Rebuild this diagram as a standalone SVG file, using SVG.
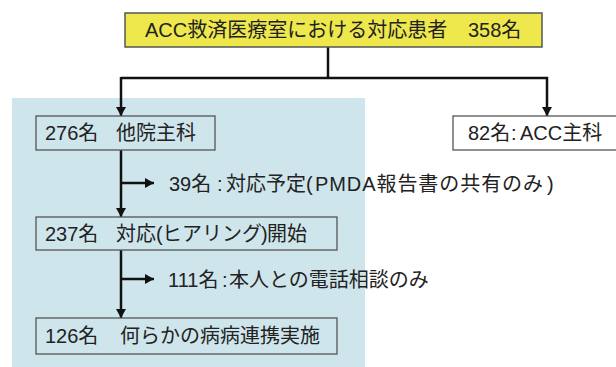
<svg xmlns="http://www.w3.org/2000/svg" width="616" height="367" viewBox="0 0 616 367">
<defs>
<style>
.t{font-family:"Liberation Sans","Noto Sans CJK JP",sans-serif;font-size:20px;fill:#222}
.box{fill:none;stroke:#555;stroke-width:1.3}
.c{stroke:#111;stroke-width:2.5;fill:none}
</style>
<marker id="ah" markerUnits="userSpaceOnUse" markerWidth="12" markerHeight="12" refX="9" refY="5" orient="auto">
<path d="M0,0 L9,5 L0,10 Z" fill="#111"/>
</marker>
</defs>
<rect width="616" height="367" fill="#fff"/>
<rect id="panel" x="12" y="98" width="353" height="269" fill="#cfe5ec"/>
<g id="connectors">
<polyline class="c" points="328,47 328,78"/>
<polyline class="c" points="121,78 547,78 547,116" marker-end="url(#ah)"/>
<line class="c" x1="121" y1="77" x2="121" y2="116" marker-end="url(#ah)"/>
<line class="c" x1="121" y1="150" x2="121" y2="217" marker-end="url(#ah)"/>
<line class="c" x1="121" y1="183" x2="154" y2="183" marker-end="url(#ah)"/>
<line class="c" x1="121" y1="250" x2="121" y2="318" marker-end="url(#ah)"/>
<line class="c" x1="121" y1="279" x2="154" y2="279" marker-end="url(#ah)"/>
</g>
<g id="top">
<rect x="125" y="13" width="417" height="34" fill="#efe84c" stroke="#555" stroke-width="1.5"/>
<text class="t" y="37"><tspan x="145">ACC救済医療室における対応患者</tspan><tspan x="468">358名</tspan></text>
</g>
<g id="n276">
<rect class="box" x="36" y="116" width="179" height="34"/>
<text class="t" y="140"><tspan x="45">276名</tspan><tspan x="116">他院主科</tspan></text>
</g>
<g id="n82">
<rect class="box" x="453" y="116" width="170" height="34"/>
<text class="t" y="140"><tspan x="468">82名</tspan><tspan x="511">:</tspan><tspan x="520">ACC主科</tspan></text>
</g>
<g id="l39">
<text class="t" y="191"><tspan x="169">39名</tspan><tspan x="217">:</tspan><tspan x="226">対応予定</tspan><tspan x="306">(</tspan><tspan x="315" textLength="228" lengthAdjust="spacing">PMDA報告書の共有のみ</tspan><tspan x="547">)</tspan></text>
</g>
<g id="n237">
<rect class="box" x="36" y="217" width="301" height="33"/>
<text class="t" y="241"><tspan x="45">237名</tspan><tspan x="116">対応</tspan><tspan x="156">(</tspan><tspan x="162">ヒアリング</tspan><tspan x="261">)</tspan><tspan x="267">開始</tspan></text>
</g>
<g id="l111">
<text class="t" y="287"><tspan x="168">111名</tspan><tspan x="222">:</tspan><tspan x="229">本人との電話相談のみ</tspan></text>
</g>
<g id="n126">
<rect class="box" x="36" y="318" width="301" height="36"/>
<text class="t" y="343"><tspan x="45">126名</tspan><tspan x="120">何らかの病病連携実施</tspan></text>
</g>
</svg>
